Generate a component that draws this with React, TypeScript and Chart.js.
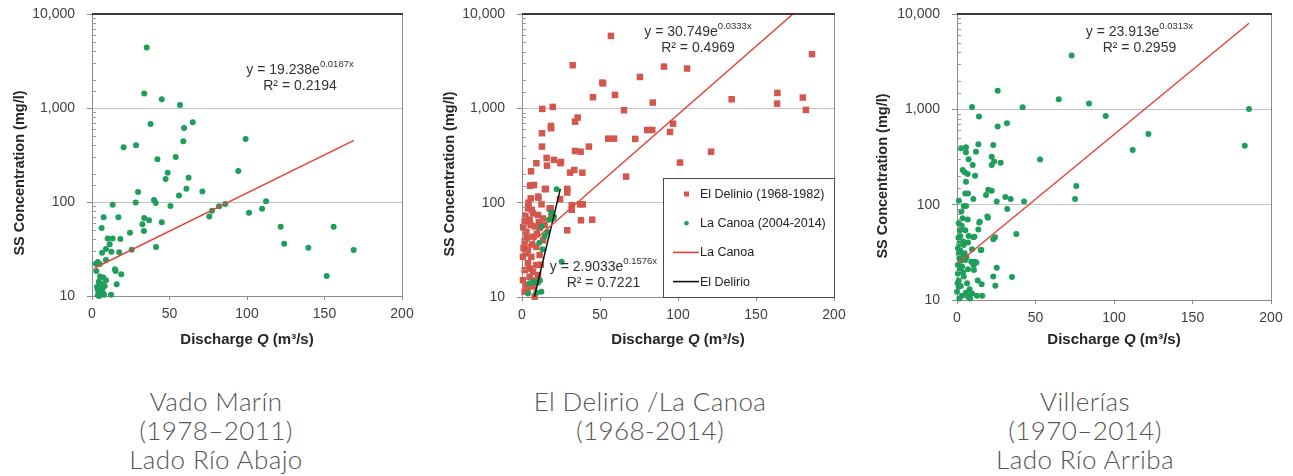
import React, { useEffect, useRef } from 'react';
import { Chart, registerables } from 'chart.js';
Chart.register(...registerables);

const FONT = '"Liberation Sans", Arial, Helvetica, sans-serif';

// ---------- axis ticks ----------
const yTickValues = [10, 100, 1000, 10000];
const yTickLabels = ['10', '100', '1,000', '10,000'];
const xTickValues = [0, 50, 100, 150, 200];

// ---------- Vado Marín ----------
const vmQ = [35.3, 33.7, 45, 56.8, 37.8, 65, 59.4, 58.9, 99.1, 20.4, 28.4, 42.2, 54, 48.8, 47.5, 94.4, 62.3, 29.7, 71.2, 60.9, 56.1, 40, 41.1, 28.2, 13.3, 50.6, 112.3, 109.7, 101.3, 86, 77.4, 75.7, 82, 7.5, 17, 33.7, 36.8, 45, 6.2, 32.5, 33.5, 24.5, 121.7, 155.9, 10.1, 13.3, 18.3, 41.3, 124, 139.6, 168.8, 11.4, 9, 25.6, 17.6, 6.5, 12.5, 9, 3.7, 5, 2.8, 14.8, 15.2, 18.9, 15.9, 151.4, 5.2, 7.3, 4.3, 9, 5.4, 6.7, 3.7, 6.2, 7.7, 12.3, 4.6, 3.2, 5.8, 8.2, 2.5, 3.7, 6, 7.1];
const vmC = [4400, 1430, 1240, 1076, 676, 704, 612, 442, 468, 382, 401, 285, 301, 205, 176, 214, 181, 128, 129, 138, 117, 105, 97.6, 99, 93.6, 90.7, 102, 85, 77, 95, 80.8, 70, 90, 69, 69, 67.6, 64, 61, 53, 58, 49, 47, 54.6, 54.6, 41, 41, 40.4, 33.2, 36, 32.6, 30.9, 35.5, 31.6, 31, 29.2, 28.9, 29.6, 24.2, 23, 21.9, 18.5, 19.2, 18.4, 17, 13.3, 16.3, 16.1, 15.7, 14.2, 14.7, 12.6, 11.9, 11.6, 10.8, 10.3, 10.3, 10, 12.5, 13.5, 12.8, 22, 10.2, 11.6, 10.7];
const vmTrendQ = [2, 169];
const vmTrendC = [20.0, 452];

// ---------- El Delirio / La Canoa ----------
const edQ = [57, 185.9, 32.5, 91, 105.8, 75.6, 51.5, 52, 45.5, 59.6, 83.8, 134.4, 163.7, 163.5, 180, 182, 65.4, 13, 19.7, 18.6, 18.6, 35.7, 34, 96.8, 94.9, 83.5, 80.3, 72.6, 55.3, 59, 12.8, 12.8, 42.9, 34, 37.6, 121.2, 15.8, 20.5, 24.6, 25, 9.2, 16, 101.3, 33.5, 30.8, 38.7, 5.8, 66.7, 5.1, 6.1, 14.7, 29, 29, 10.5, 24.4, 4, 31.9, 37.2, 38.9, 31.9, 18.4, 37.8, 45, 29, 3.8, 7.1, 10.3, 4.9, 1.7, 13.5, 17.7, 18.8, 8.1, 2.8, 11.3, 7.1, 1.7, 13.5, 9.2, 3.8, 6, 0.6, 11.3, 3.8, 9.2, 1.7, 7.1, 4.9, 0.6, 10.3, 2.8, 7.1, 1.7, 8.1, 5.6, 10.3, 15.2, 7.7, 2.2, 5.5, 9.5, 3, 6.5, 12, 2.5, 5, 8.5, 3.5, 14.5, 0.8, 4.2, 12.5, 6.3, 1, 10.8];
const edC = [5860, 3750, 2865, 2770, 2640, 2150, 1875, 1840, 1312, 1387, 1150, 1248, 1456, 1122, 1300, 962, 955, 986, 1035, 650, 615, 798, 723, 688, 562, 590, 589, 474, 477, 477, 545, 393, 393, 353, 347, 347, 298, 284, 262, 270, 262, 247, 266, 222, 208, 208, 215, 189, 151, 153, 140, 140, 128, 113, 109, 93, 94, 96, 96, 84, 87, 65, 66, 51, 87, 77, 74, 66, 63, 68, 87, 71, 56, 49, 54, 43.6, 38.6, 40, 34, 31.5, 26.7, 26.7, 27.9, 22.8, 21.8, 19.3, 18.5, 16.4, 15.1, 17.1, 13.4, 12.9, 11.4, 10.1, 111, 116, 139, 154, 72, 58, 47, 42, 36, 22, 29, 20, 15, 11.8, 58, 55, 100, 96, 84, 33, 62];
const lcQ = [22.2, 25.4, 18.8, 20.5, 17.3, 12.6, 16.2, 11.1, 13.2, 7.1, 4.9, 10.3, 3.8, 9.2, 12.4, 11.5, 19.9, 14.5];
const lcC = [139, 23.7, 79, 71, 66, 56, 49, 37.7, 32, 14.5, 14, 14.2, 10.9, 11.1, 11.4, 15, 68, 44];
const lcTrendQ = [2, 173.7];
const lcTrendC = [32.9, 10000];
const edTrendQ = [7.9, 24.6];
const edTrendC = [10, 140];

// ---------- Villerías ----------
const viQ = [73, 25.9, 64.8, 84.1, 9.6, 41.8, 186, 14, 94.7, 31.8, 25.9, 121.9, 183.3, 111.9, 52.9, 76, 75.2, 42.7, 37.8, 35, 23.1, 13.6, 12.1, 22.1, 23.6, 27.8, 22.1, 10, 11.5, 19.9, 22.1, 18.5, 30.8, 34.2, 10.4, 25.3, 32, 19.7, 19.3, 14.2, 13.6, 10.4, 24.2, 23.1, 15.1, 25.3, 23.1, 24.4, 15.7, 16.1, 11.3, 10.2, 2.5, 5.7, 5.7, 7.4, 3.6, 4.9, 6.8, 5.7, 5.3, 7, 4.3, 5.8, 1.1, 3.6, 6.8, 14.5, 1.9, 5.3, 2.1, 7.4, 11.1, 1.5, 4.3, 7, 0.6, 9.6, 15.5, 1.1, 4.3, 1.5, 5.3, 9.1, 12.3, 0.6, 3.2, 7, 10.6, 0.6, 4.3, 10.8, 1.1, 6.4, 13.2, 1.1, 0, 5.7, 9.6, 3.2, 7, 12.7, 1.5, 8.4, 2.8, 0.9, 3, 2, 4.8, 2.6, 6, 1.8, 3.8, 0.4, 2.4, 8, 4, 1.2];
const viC = [3660, 1571, 1277, 1148, 1060, 1054, 1009, 839, 853, 715, 659, 552, 416, 375, 297, 157, 115, 108, 49.3, 17.4, 423, 430, 360, 319, 283, 276, 261, 261, 201, 143, 140, 126, 120, 115, 115, 108, 90, 73, 75, 65, 55, 45.5, 45.5, 43.4, 33.5, 21.8, 17.6, 14.1, 14.6, 11.1, 25.2, 24, 391, 400, 355, 299, 231, 219, 210, 174, 131, 131, 97, 97, 64, 72, 70, 66, 54, 54, 47, 47, 46, 39, 37.8, 40, 34.8, 34, 33.5, 30.9, 29.6, 27.4, 26.3, 25.2, 24.7, 23.3, 22.4, 21, 23.3, 19, 17.6, 20.6, 16, 15, 16, 13.8, 12.2, 11.9, 11.7, 11.1, 10.8, 11.1, 10.4, 10.4, 85, 45, 60, 33, 31, 26, 28, 21, 19.5, 15, 14, 13, 41, 110];
const viTrendQ = [0.5, 186];
const viTrendC = [24.3, 8000];

const GREEN = '#1e9e5a';
const RED_SQ = '#d4574e';
const RED_LINE = '#e3453a';

const pts = (q: number[], c: number[]) => q.map((v, i) => ({ x: v, y: c[i] }));
const isMajor = (v: number) => yTickValues.some((t) => Math.abs(v - t) / t < 1e-6);

type Eq = { q: number; c: number; base: string; exp: string; r2: string };
type LegendItem = { kind: 'square' | 'dot' | 'line'; color: string; text: string };

const decor = {
  id: 'panelDecor',
  afterDraw(chart: any, _args: any, opts: any) {
    const ctx = chart.ctx;
    const { left, right, top, bottom } = chart.chartArea;
    const xs = chart.scales.x;
    const ys = chart.scales.y;
    ctx.save();
    // minor inner ticks
    ctx.strokeStyle = '#9a9a9a';
    ctx.lineWidth = 1;
    ys.ticks.forEach((t: any) => {
      if (isMajor(t.value)) return;
      const y = Math.round(ys.getPixelForValue(t.value)) + 0.5;
      ctx.beginPath();
      ctx.moveTo(left, y);
      ctx.lineTo(left + 4, y);
      ctx.stroke();
    });
    // frame: top and right
    ctx.strokeStyle = '#8c8c8c';
    ctx.beginPath();
    ctx.moveTo(Math.round(right) + 0.5, top);
    ctx.lineTo(Math.round(right) + 0.5, bottom);
    ctx.stroke();
    ctx.strokeStyle = '#3a3a3a';
    ctx.lineWidth = 2;
    ctx.beginPath();
    ctx.moveTo(left, Math.round(top));
    ctx.lineTo(right + 1, Math.round(top));
    ctx.stroke();

    // equations
    (opts.equations || []).forEach((eq: Eq) => {
      const cx = xs.getPixelForValue(eq.q);
      const cy = ys.getPixelForValue(eq.c);
      ctx.fillStyle = '#333';
      ctx.textBaseline = 'middle';
      ctx.textAlign = 'left';
      const fBase = `14px ${FONT}`;
      const fExp = `9.5px ${FONT}`;
      ctx.font = fBase;
      const wb = ctx.measureText(eq.base).width;
      ctx.font = fExp;
      const we = ctx.measureText(eq.exp).width;
      const sx = cx - (wb + we) / 2;
      ctx.font = fBase;
      ctx.fillText(eq.base, sx, cy);
      ctx.font = fExp;
      ctx.fillText(eq.exp, sx + wb, cy - 6);
      ctx.font = fBase;
      ctx.textAlign = 'center';
      ctx.fillText(eq.r2, cx, cy + 16.5);
    });

    // legend
    if (opts.legend) {
      const lg = opts.legend;
      const bx = right - lg.width;
      const by = bottom - lg.height;
      ctx.fillStyle = '#fff';
      ctx.fillRect(bx, by, lg.width, lg.height);
      ctx.strokeStyle = '#4a4a4a';
      ctx.lineWidth = 1;
      ctx.strokeRect(Math.round(bx) + 0.5, Math.round(by) + 0.5, lg.width, lg.height);
      lg.items.forEach((it: LegendItem, i: number) => {
        const iy = by + 16 + i * 29.2;
        const mx = bx + 23.5;
        if (it.kind === 'square') {
          ctx.fillStyle = it.color;
          ctx.fillRect(mx - 2.5, iy - 2.5, 5, 5);
        } else if (it.kind === 'dot') {
          ctx.fillStyle = it.color;
          ctx.beginPath();
          ctx.arc(mx, iy, 2.3, 0, Math.PI * 2);
          ctx.fill();
        } else {
          ctx.strokeStyle = it.color;
          ctx.lineWidth = 1.6;
          ctx.beginPath();
          ctx.moveTo(bx + 10, iy);
          ctx.lineTo(bx + 36, iy);
          ctx.stroke();
        }
        ctx.fillStyle = '#222';
        ctx.font = `12.5px ${FONT}`;
        ctx.textAlign = 'left';
        ctx.textBaseline = 'middle';
        ctx.fillText(it.text, bx + 37, iy + 0.5);
      });
    }

    // y title
    ctx.save();
    ctx.translate(opts.yTitleX, opts.yTitleY);
    ctx.rotate(-Math.PI / 2);
    ctx.fillStyle = '#262626';
    ctx.font = `bold 14.5px ${FONT}`;
    ctx.textAlign = 'center';
    ctx.textBaseline = 'middle';
    ctx.fillText('SS Concentration (mg/l)', 0, 0);
    ctx.restore();

    // x title with italic Q
    const parts = [
      { t: 'Discharge ', f: `bold 15px ${FONT}` },
      { t: 'Q', f: `italic bold 15px ${FONT}` },
      { t: ' (m³/s)', f: `bold 15px ${FONT}` },
    ];
    let total = 0;
    parts.forEach((p) => { ctx.font = p.f; total += ctx.measureText(p.t).width; });
    let px = (left + right) / 2 - total / 2;
    ctx.fillStyle = '#262626';
    ctx.textAlign = 'left';
    ctx.textBaseline = 'middle';
    parts.forEach((p) => { ctx.font = p.f; ctx.fillText(p.t, px, opts.xTitleY); px += ctx.measureText(p.t).width; });
    ctx.restore();
  },
};

type PanelProps = {
  left: number;
  width: number;
  yAxisWidth: number;
  padRight: number;
  padBottom: number;
  yTitleX: number;
  yTitleY: number;
  datasets: any[];
  equations: Eq[];
  legend?: any;
};

function Panel(p: PanelProps) {
  const ref = useRef<HTMLCanvasElement>(null);
  useEffect(() => {
    if (!ref.current) return;
    const chart = new Chart(ref.current, {
      type: 'scatter',
      data: { datasets: p.datasets },
      plugins: [decor],
      options: {
        responsive: false,
        maintainAspectRatio: false,
        animation: false,
        layout: { padding: { left: 0, top: 14, right: p.padRight, bottom: p.padBottom } },
        plugins: {
          legend: { display: false },
          tooltip: { enabled: false },
          panelDecor: {
            equations: p.equations,
            legend: p.legend,
            yTitleX: p.yTitleX,
            yTitleY: p.yTitleY,
            xTitleY: 340,
          },
        } as any,
        scales: {
          x: {
            type: 'linear',
            min: 0,
            max: 200,
            afterBuildTicks: (s: any) => { s.ticks = xTickValues.map((v) => ({ value: v })); },
            afterFit: (s: any) => { s.height = 30; s.paddingLeft = 0; s.paddingRight = 0; },
            ticks: { font: { family: FONT, size: 14 }, color: '#404040', padding: 6, maxRotation: 0 },
            grid: { drawOnChartArea: false, tickLength: 4, color: '#8c8c8c' },
            border: { color: '#8c8c8c' },
          },
          y: {
            type: 'logarithmic',
            min: 10,
            max: 10000,
            afterFit: (s: any) => { s.width = p.yAxisWidth; s.paddingTop = 0; s.paddingBottom = 0; },
            ticks: {
              autoSkip: false,
              font: { family: FONT, size: 14 },
              color: '#404040',
              padding: 12,
              callback: (v: any) => {
                const i = yTickValues.findIndex((t) => Math.abs(Number(v) - t) / t < 1e-6);
                return i >= 0 ? yTickLabels[i] : '';
              },
            },
            grid: {
              tickLength: 5,
              color: (c: any) => (c.tick && isMajor(c.tick.value) ? '#c4c4c4' : 'rgba(0,0,0,0)'),
              tickColor: (c: any) => (c.tick && isMajor(c.tick.value) ? '#8c8c8c' : 'rgba(0,0,0,0)'),
            },
            border: { color: '#8c8c8c' },
          },
        },
      } as any,
    });
    return () => chart.destroy();
  }, []);
  return (
    <canvas
      ref={ref}
      width={p.width}
      height={360}
      style={{ position: 'absolute', left: p.left, top: 0, width: p.width, height: 360 }}
    />
  );
}

const scatterSet = (q: number[], c: number[], color: string, style: string, r: number, order: number) => ({
  data: pts(q, c),
  pointStyle: style,
  pointRadius: r,
  pointBackgroundColor: color,
  pointBorderColor: color,
  pointBorderWidth: 0,
  showLine: false,
  order,
  clip: 6,
});
const lineSet = (q: number[], c: number[], color: string) => ({
  data: pts(q, c),
  showLine: true,
  borderColor: color,
  borderWidth: 1.5,
  pointRadius: 0,
  fill: false,
  order: 0,
});

const captionStyle: React.CSSProperties = {
  position: 'absolute',
  top: 387,
  textAlign: 'center',
  fontFamily: 'Lato, "Open Sans", sans-serif',
  fontWeight: 300,
  fontSize: 26,
  lineHeight: '29px',
  letterSpacing: '0.4px',
  color: '#555',
  whiteSpace: 'nowrap',
};

export default function App() {
  return (
    <div style={{ position: 'absolute', left: 0, top: 0, width: 1293, height: 476, background: '#fff', overflow: 'hidden' }}>
      <Panel
        left={0}
        width={430}
        yAxisWidth={92}
        padRight={28}
        padBottom={34}
        yTitleX={20}
        yTitleY={173}
        datasets={[
          lineSet(vmTrendQ, vmTrendC, RED_LINE),
          scatterSet(vmQ, vmC, GREEN, 'circle', 3, 1),
        ]}
        equations={[{ q: 134.2, c: 2540, base: 'y = 19.238e', exp: '0.0187x', r2: 'R² = 0.2194' }]}
      />
      <Panel
        left={430}
        width={430}
        yAxisWidth={92}
        padRight={26}
        padBottom={33}
        yTitleX={20}
        yTitleY={174}
        datasets={[
          lineSet(lcTrendQ, lcTrendC, RED_LINE),
          lineSet(edTrendQ, edTrendC, '#111'),
          scatterSet(lcQ, lcC, GREEN, 'circle', 3, 1),
          scatterSet(edQ, edC, RED_SQ, 'rect', 4.6, 2),
        ]}
        equations={[
          { q: 112.8, c: 6460, base: 'y = 30.749e', exp: '0.0333x', r2: 'R² = 0.4969' },
          { q: 52.2, c: 20.8, base: 'y = 2.9033e', exp: '0.1576x', r2: 'R² = 0.7221' },
        ]}
        legend={{
          width: 171,
          height: 119,
          items: [
            { kind: 'square', color: RED_SQ, text: 'El Delinio (1968-1982)' },
            { kind: 'dot', color: GREEN, text: 'La Canoa (2004-2014)' },
            { kind: 'line', color: RED_LINE, text: 'La Canoa' },
            { kind: 'line', color: '#111', text: 'El Delirio' },
          ],
        }}
      />
      <Panel
        left={860}
        width={433}
        yAxisWidth={97}
        padRight={22}
        padBottom={30}
        yTitleX={23}
        yTitleY={176}
        datasets={[
          lineSet(viTrendQ, viTrendC, RED_LINE),
          scatterSet(viQ, viC, GREEN, 'circle', 3, 1),
        ]}
        equations={[{ q: 116.2, c: 6490, base: 'y = 23.913e', exp: '0.0313x', r2: 'R² = 0.2959' }]}
      />
      <div style={{ ...captionStyle, left: 0, width: 432 }}>
        Vado Marín<br />(1978–2011)<br />Lado Río Abajo
      </div>
      <div style={{ ...captionStyle, left: 430, width: 440 }}>
        El Delirio /La Canoa<br />(1968-2014)
      </div>
      <div style={{ ...captionStyle, left: 860, width: 450 }}>
        Villerías<br />(1970–2014)<br />Lado Río Arriba
      </div>
    </div>
  );
}
